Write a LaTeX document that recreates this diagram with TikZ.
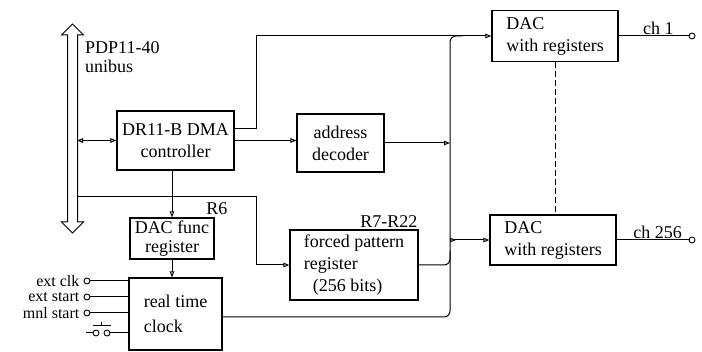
\documentclass[tikz,border=0pt]{standalone}
\usepackage{fontspec}
\setmainfont{Liberation Serif}
\usetikzlibrary{arrows.meta,positioning,calc,shapes.arrows}
\tikzset{>={Triangle[open,length=6pt,width=4.5pt]},
  box/.style={draw,line width=1.2pt,align=center,inner sep=2pt,
    font=\fontsize{18}{22}\selectfont},
  wire/.style={line width=1pt},
  arrow/.style={->,line width=1pt},
  term/.style={circle,draw,line width=0.9pt,inner sep=0pt,minimum size=6pt},
  lbl/.style={font=\fontsize{18}{19}\selectfont,inner sep=1pt},
  inlbl/.style={font=\fontsize{16}{16}\selectfont,inner sep=0pt}}
\begin{document}
\begin{tikzpicture}[x=1pt,y=-1pt]
\useasboundingbox (0,0) rectangle (702,352);
% unibus
\node[draw,line width=1pt,double arrow,rotate=90,minimum height=209pt,
  inner sep=4.5pt,double arrow head extend=6pt] (bus) at (72.5,128.5) {};
\node[lbl,anchor=north west,align=left] (pdp) at (84,40) {PDP11-40\\unibus};
\coordinate (busr) at (77,0);
\coordinate (tap) at (77,197);
\coordinate (jog) at (256,0);
\coordinate (xbus) at (450,0);
% blocks
\node[box,minimum width=117pt,minimum height=59pt] (dma) at (175.5,140.5) {DR11-B DMA\\controller};
\node[box,minimum width=87pt,minimum height=58pt] (addr) at (340.5,143) {address\\decoder};
\node[box,minimum width=126pt,minimum height=51pt,align=left] (dac1) at (555,36) {DAC\\with registers};
\node[box,minimum width=126pt,minimum height=50pt,align=left] (dacn) at (553,240) {DAC\\with registers};
\node[box,minimum width=84pt,minimum height=41pt,inner sep=1pt,
  font=\fontsize{18}{19}\selectfont] (func) at (172,238.5) {DAC func\\register};
\node[box,minimum width=128pt,minimum height=70pt,align=left] (fpr) at (354,265) {forced pattern\\register\\\hspace{9pt}(256 bits)};
\node[box,minimum width=93pt,minimum height=72pt,align=left,
  font=\fontsize{18}{25}\selectfont] (rtc) at (175.5,314) {real time\\clock};
\node[lbl,anchor=south east,yshift=2pt] (r6) at ([xshift=14pt]func.north east) {R6};
\node[lbl,anchor=south east,yshift=1pt] (r7) at (fpr.north east) {R7-R22};
% outputs
\node[term] (ch1) at (692,36) {};
\node[term] (chn) at (692,240) {};
\draw[wire] (dac1.east) -- node[lbl,above,pos=.57] (ch1lbl) {ch 1} (ch1);
\draw[wire] (dacn.east) -- node[lbl,above,pos=.57] (chnlbl) {ch 256} (chn);
\draw[wire,dash pattern=on 6pt off 3pt] (dac1.south) -- (dac1.south |- dacn.north);
% data paths
\draw[wire,<->] (busr |- dma.west) -- (dma.west);
\draw[arrow] ([yshift=12pt]dma.east) -| (jog |- dac1.west) -- (dac1.west);
\draw[arrow] (dma.east) -- (dma.east -| addr.west);
\draw[arrow] (addr.east) -- (addr.east -| xbus);
\draw[wire,rounded corners=6pt] ([yshift=-3pt]rtc.east) -| (xbus |- dac1.west) -- ++(12,0);
\draw[wire,rounded corners=6pt] (fpr.east) -| ([yshift=14pt]xbus |- fpr.east);
\draw[wire,{Triangle[open,reversed,length=6pt,width=4.5pt]}->] (xbus |- dacn.west) -- (dacn.west);
\draw[arrow] (tap) -| (jog |- fpr.west) -- (fpr.west);
\draw[arrow] (func.north |- dma.south) -- (func.north);
\draw[arrow] (func.south) -- (func.south |- rtc.north);
% clock inputs
\foreach \y/\txt/\nm in {281/ext clk/clk,297/ext start/start,313/mnl start/mnl}{
  \node[term] (\nm) at (87,\y) {};
  \node[inlbl,anchor=east,xshift=-4pt] (\nm-lbl) at (\nm.west) {\txt};
  \draw[wire] (\nm) -- (\nm -| rtc.west);
}
% push button
\node[term] (sw1) at (96,333) {};
\node[term] (sw2) at (107,333) {};
\coordinate (swlead) at (86,333);
\coordinate (bar) at (101.5,326);
\draw[wire] (swlead) -- (sw1);
\draw[wire] (sw2) -- (sw2 -| rtc.west);
\draw[wire] (bar) ++(-9,0) -- ++(18,0);
\draw[wire] (bar) -- ++(0,-4);
\end{tikzpicture}
\end{document}
